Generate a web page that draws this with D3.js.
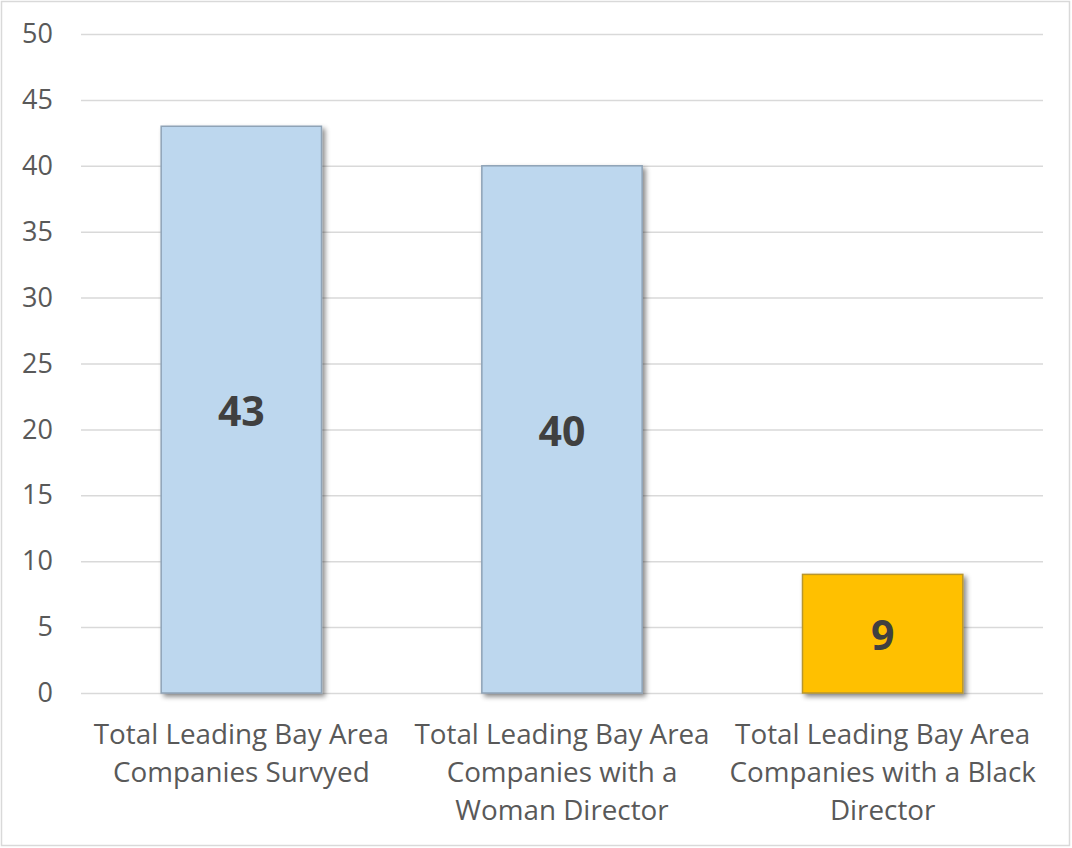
<!DOCTYPE html>
<html><head><meta charset="utf-8">
<script src="https://cdn.jsdelivr.net/npm/d3@7"></script>
<style>body{margin:0;background:#fff}svg{display:block}</style>
</head><body>
<svg id="c" width="1072" height="848"></svg>
<script>
const categories = [
  ["Total Leading Bay Area", "Companies Survyed"],
  ["Total Leading Bay Area", "Companies with a", "Woman Director"],
  ["Total Leading Bay Area", "Companies with a Black", "Director"]
];
const values = [43, 40, 9];
const barColors = ["#bdd7ee", "#bdd7ee", "#ffc000"];
const barStrokes = ["#8fa3b6", "#8fa3b6", "#b8962e"];
const yTicks = [0, 5, 10, 15, 20, 25, 30, 35, 40, 45, 50];

const svg = d3.select("#c");
const font = "'Open Sans', sans-serif";
svg.append("rect").attr("x", 1.5).attr("y", 1.5).attr("width", 1068).attr("height", 844)
  .attr("fill", "#fff").attr("stroke", "#d9d9d9").attr("stroke-width", 1.5);

const defs = svg.append("defs");
const f = defs.append("filter").attr("id", "sh").attr("x", "-10%").attr("y", "-10%").attr("width", "130%").attr("height", "130%");
f.append("feDropShadow").attr("dx", 3).attr("dy", 3).attr("stdDeviation", 2.5).attr("flood-color", "#000").attr("flood-opacity", 0.45);

const x = d3.scaleBand().domain(d3.range(values.length)).range([81, 1043]).paddingInner(0.5).paddingOuter(0.25);
const y = d3.scaleLinear().domain([0, 50]).range([693, 34]);

const gy = svg.append("g").attr("transform", "translate(81,0)")
  .call(d3.axisLeft(y).tickValues(yTicks).tickSize(-962).tickPadding(28).tickFormat(d3.format("d")));
gy.select(".domain").remove();
gy.selectAll(".tick line").attr("stroke", "#d9d9d9").attr("stroke-width", 1.5);
gy.selectAll(".tick text").attr("fill", "#595959").attr("font-size", 27).attr("font-family", font);

svg.append("g").selectAll("rect").data(values).join("rect")
  .attr("x", (d, i) => x(i)).attr("width", x.bandwidth())
  .attr("y", d => y(d)).attr("height", d => y(0) - y(d))
  .attr("fill", (d, i) => barColors[i]).attr("stroke", (d, i) => barStrokes[i]).attr("stroke-width", 1.5)
  .attr("filter", "url(#sh)");

svg.append("g").selectAll("text").data(values).join("text")
  .attr("x", (d, i) => x(i) + x.bandwidth() / 2)
  .attr("y", d => (y(d) + y(0)) / 2 + 2)
  .attr("dy", "0.35em").attr("text-anchor", "middle")
  .attr("font-family", font).attr("font-weight", "bold").attr("font-size", 41).attr("fill", "#404040")
  .text(d => d);

const lab = svg.append("g").selectAll("text").data(categories).join("text")
  .attr("text-anchor", "middle").attr("font-family", font).attr("font-size", 27.8).attr("fill", "#595959")
  .attr("transform", (d, i) => `translate(${x(i) + x.bandwidth() / 2},744)`);
lab.selectAll("tspan").data(d => d).join("tspan")
  .attr("x", 0).attr("y", (d, j) => j * 38).text(d => d);
</script>
</body></html>
